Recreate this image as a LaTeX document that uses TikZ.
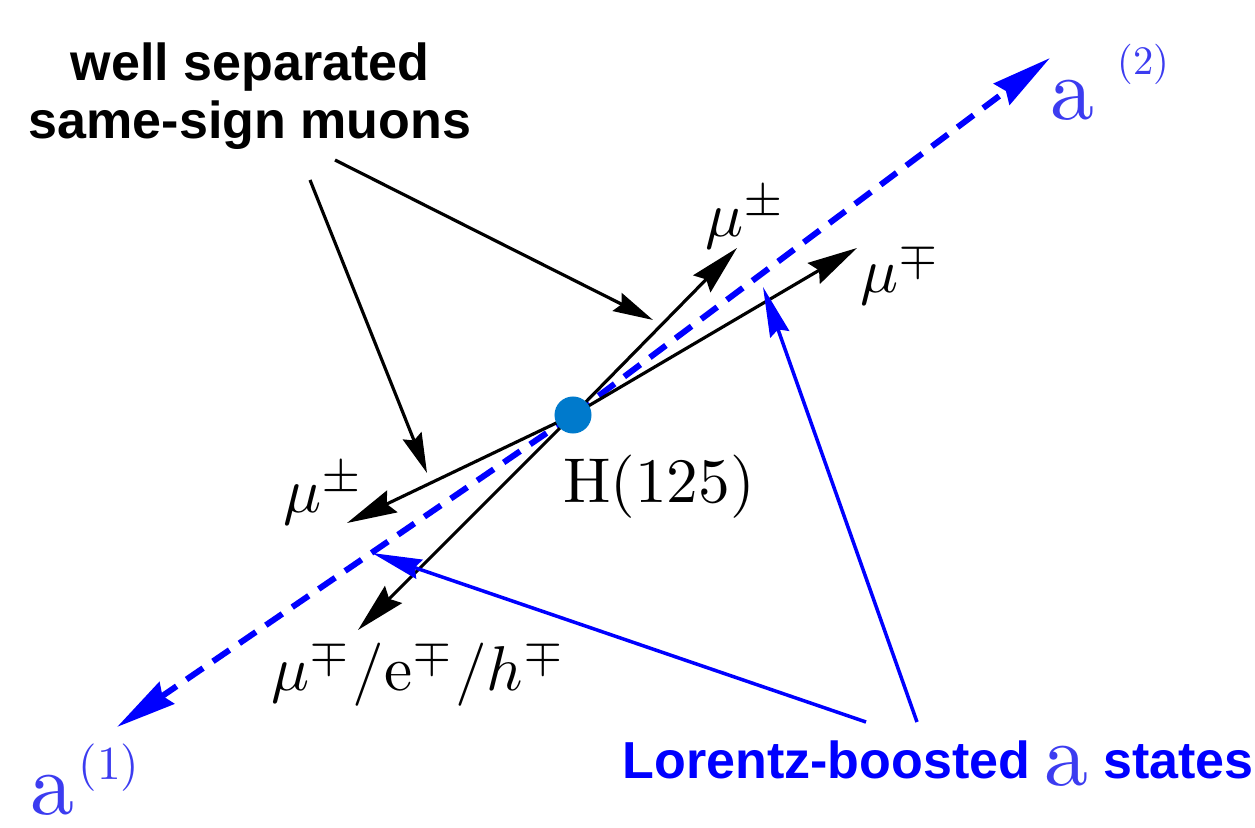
\RequirePackage{fix-cm}
\documentclass[tikz,border=0pt]{standalone}
\usepackage{fontspec}
\setsansfont{Liberation Sans}
\newfontfamily\statefont{lmroman10-regular.otf}
\usepackage{graphicx}
\usetikzlibrary{arrows.meta}

\definecolor{higgsblue}{RGB}{0,122,204}
\definecolor{stateblue}{RGB}{60,60,240}
\newcommand{\stateA}{\statefont\fontsize{25}{25}\selectfont}
\newcommand{\supA}[1]{\statefont\fontsize{#1}{#1}\selectfont}
\newcommand{\lbl}[1]{\scalebox{1.8}{#1}}

\tikzset{
  muon/.style={draw=black, line width=0.9pt, -{Stealth[length=5mm,width=2.4mm,inset=0.6mm]}},
  pointer/.style={draw=black, line width=0.9pt, -{Stealth[length=4mm,width=2mm,inset=0.5mm]}},
  bluepointer/.style={draw=blue, line width=1pt, -{Stealth[length=5mm,width=2mm,inset=0.5mm]}},
  astate/.style={draw=blue, line width=1.7pt, dash pattern=on 2mm off 1.2mm, -{Stealth[length=6mm,width=2.6mm,inset=0.5mm]}},
  mulabel/.style={inner sep=0pt, anchor=base west},
  alabel/.style={inner sep=0pt, anchor=base west, text=stateblue},
  note/.style={inner sep=0pt, font={\sffamily\bfseries\fontsize{14.8}{16.5}\selectfont}, align=center},
  higgs/.style={circle, fill=higgsblue, inner sep=0pt, minimum size=3.7mm},
}

\begin{document}
\begin{tikzpicture}[x=0.01cm, y=-0.01cm]
    \useasboundingbox (0,0) rectangle (1255,828);

    % vertex and end points
    \coordinate (H) at (573,415);
    \coordinate (a1tip) at (117,727);
    \coordinate (a2tip) at (1050,58);
    \coordinate (mu1tip) at (737,248);
    \coordinate (mu2tip) at (857,248);
    \coordinate (mu3tip) at (347,523);
    \coordinate (mu4tip) at (358,630);

    % the two a states
    \draw[astate] (H) -- (a2tip);
    \draw[astate] (H) -- (a1tip);

    % decay products
    \draw[muon] (H) -- (mu1tip);
    \draw[muon] (H) -- (mu2tip);
    \draw[muon] (H) -- (mu3tip);
    \draw[muon] (H) -- (mu4tip);

    \node[higgs] (Hdot) at (H) {};

    % labels
    \node[inner sep=0pt, anchor=base] (Hlab) at (659,503) {\lbl{$\mathrm{H}(125)$}};
    \node[mulabel] (mu1) at (705,237) {\lbl{$\mu^{\pm}$}};
    \node[mulabel] (mu2) at (860,293) {\lbl{$\mu^{\mp}$}};
    \node[mulabel] (mu3) at (283,513) {\lbl{$\mu^{\pm}$}};
    \node[mulabel] (mu4) at (271,690) {\lbl{$\mu^{\mp}/\mathrm{e}^{\mp}/h^{\mp}$}};

    \node[alabel] (a2) at (1050,120) {\stateA a\hspace{2.3mm}\raisebox{4.5mm}{\supA{11.5}(2)}};
    \node[alabel] (a1) at (30,814) {\stateA a\hspace{0.4mm}\raisebox{3.4mm}{\supA{13.5}(1)}};

    \node[note] (sameSign) at (250,96) {well separated\\same-sign muons};
    \node[note, anchor=base west, text=blue] (boosted) at (622,778)
        {Lorentz-boosted \raisebox{-0.7mm}{\stateA\mdseries\color{stateblue}a} states};

    % pointers
    \coordinate (p1) at (310,180);
    \coordinate (p2) at (335,160);
    \coordinate (q1) at (427,473);
    \coordinate (q2) at (653,320);
    \draw[pointer] (p1) -- (q1);
    \draw[pointer] (p2) -- (q2);

    \coordinate (b1) at (866,722);
    \coordinate (b2) at (917,722);
    \coordinate (c1) at (372,553);
    \coordinate (c2) at (763,287);
    \draw[bluepointer] (b1) -- (c1);
    \draw[bluepointer] (b2) -- (c2);
\end{tikzpicture}
\end{document}
